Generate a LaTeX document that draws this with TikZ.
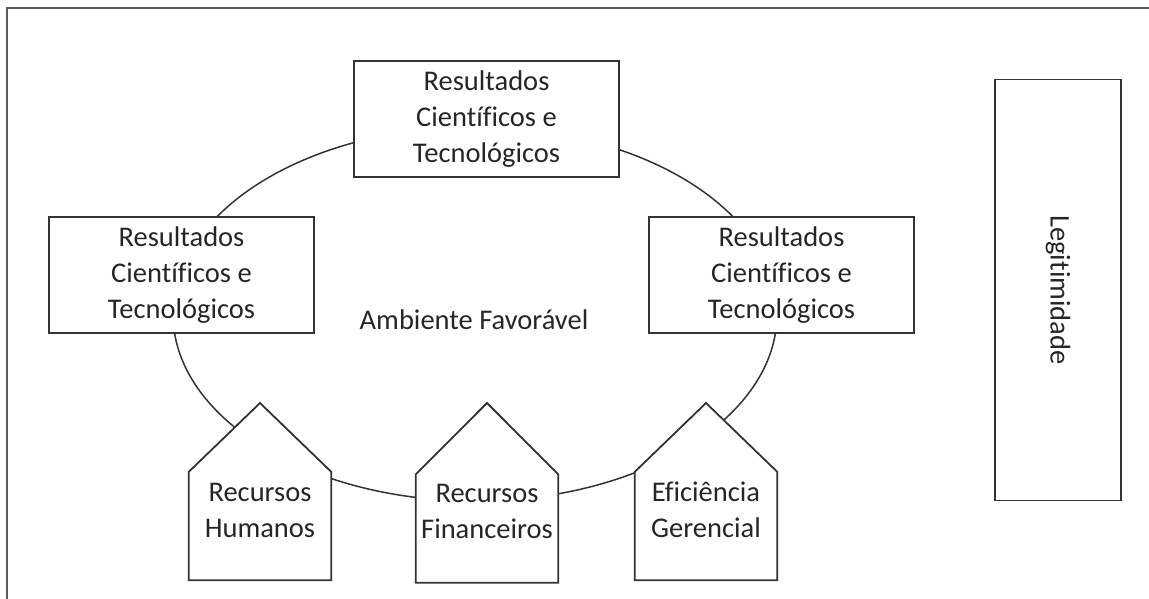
\documentclass[tikz,border=0pt]{standalone}
\usepackage{fontspec}
\setmainfont{Carlito}[Ligatures=CommonOff]

\tikzset{
  linha/.style={draw=black!80, line width=1.8pt},
  caixa/.style={linha, fill=white, align=center, inner sep=0pt,
    minimum width=265pt, minimum height=116pt,
    font=\fontsize{28.5}{36}\selectfont, text=black!85},
  corpo/.style={inner sep=0pt, minimum width=142pt, minimum height=108pt},
  casa/.style={linha, fill=white, line join=miter},
  texto/.style={align=center, font=\fontsize{28.5}{36}\selectfont, text=black!85},
}

\begin{document}
\begin{tikzpicture}[x=1pt, y=-1pt]
    \useasboundingbox (0,0) rectangle (1149,599);

    % moldura
    \coordinate (m1) at (7,599);
    \coordinate (m2) at (7,8);
    \coordinate (m3) at (1149,8);
    \draw[draw=black!65, line width=2pt] (m1) -- (m2) -- (m3);

    % ambiente
    \node (amb) at (475,314) {};
    \draw[linha, line width=1.5pt] (amb.center) ellipse [x radius=302pt, y radius=187pt];
    \node[texto] (ta) at (474,320) {Ambiente Favorável};

    \node[caixa] (rt) at (486.5,119) {Resultados\\Científicos e\\Tecnológicos};
    \node[caixa] (re) at (181.5,275) {Resultados\\Científicos e\\Tecnológicos};
    \node[caixa] (rd) at (781.5,275) {Resultados\\Científicos e\\Tecnológicos};

    % casas
    \coordinate (p1) at (260,403);
    \coordinate (p2) at (487,403);
    \coordinate (p3) at (706,403);
    \node[corpo] (h1) at (260,526) {};
    \node[corpo] (h2) at (487,528.5) {};
    \node[corpo] (h3) at (706,526) {};
    \draw[casa] (h1.south west) -- (h1.north west) -- (p1) -- (h1.north east) -- (h1.south east) -- cycle;
    \draw[casa] (h2.south west) -- (h2.north west) -- (p2) -- (h2.north east) -- (h2.south east) -- cycle;
    \draw[casa] (h3.south west) -- (h3.north west) -- (p3) -- (h3.north east) -- (h3.south east) -- cycle;
    \node[texto] (t1) at (260,510) {Recursos\\Humanos};
    \node[texto] (t2) at (487,511) {Recursos\\Financeiros};
    \node[texto] (t3) at (706,510) {Eficiência\\Gerencial};

    \node[caixa, rotate=-90, minimum width=421pt, minimum height=126pt] (leg) at (1058,290) {Legitimidade};
\end{tikzpicture}
\end{document}
